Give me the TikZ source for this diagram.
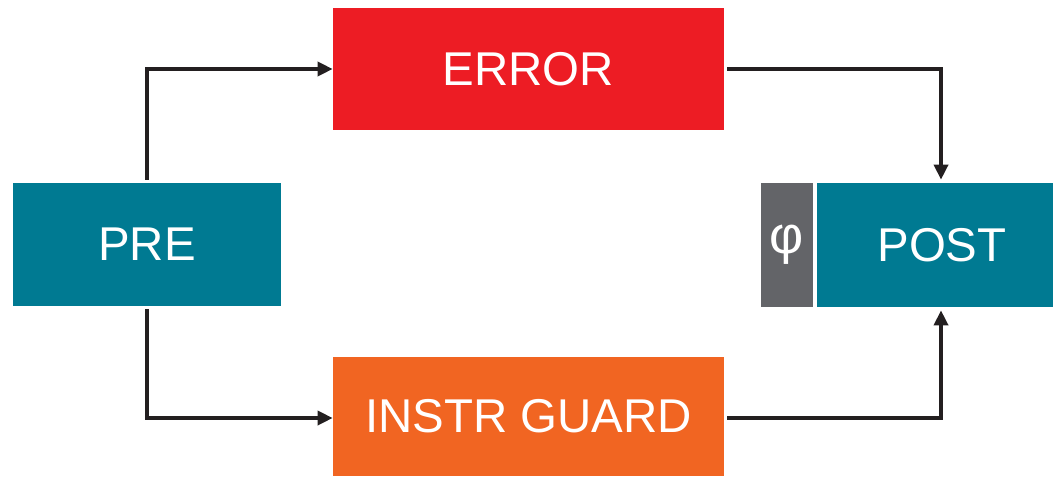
\documentclass[tikz,border=0pt]{standalone}
\usepackage{fontspec}
\setmainfont{Liberation Sans}
\definecolor{PathTeal}{RGB}{0, 122, 146}
\definecolor{PathRed}{RGB}{237, 28, 36}
\definecolor{PathOrange}{RGB}{241, 101, 34}
\definecolor{PhiGrey}{RGB}{99, 100, 104}
\definecolor{ArrowInk}{RGB}{35, 31, 32}
\usetikzlibrary{arrows.meta, positioning, calc}

\tikzset{
	block/.style={rectangle, draw=none, text=white, inner sep=0pt,
		font=\fontsize{27}{32}\selectfont},
	flow/.style={draw=ArrowInk, line width=2pt,
		-{Triangle[length=0.3cm, width=0.28cm]}}
}

\begin{document}
\begin{tikzpicture}[x=0.02cm, y=-0.02cm]
	\useasboundingbox (0,0) rectangle (1053,477);
	% the four states
	\node[block, fill=PathTeal, minimum width=268*0.02cm, minimum height=123*0.02cm] (pre) at (147,244.5) {PRE};
	\node[block, fill=PathRed, minimum width=391*0.02cm, minimum height=122*0.02cm] (error) at (528.5,69) {ERROR};
	\node[block, fill=PathOrange, minimum width=391*0.02cm, minimum height=119*0.02cm] (guard) at (528.5,416.5) {INSTR GUARD};
	\node[block, fill=PathTeal, minimum width=236*0.02cm, minimum height=124*0.02cm] (post) at (935,245) {\hspace{0.28cm}POST};
	\node[block, fill=PhiGrey, minimum width=52*0.02cm, minimum height=124*0.02cm] (phi) at (787,245) {\fontsize{30}{32}\selectfont φ};
	% connectors
	\coordinate (postin) at ([xshift=0.12cm]post.north);
	\coordinate (postout) at ([xshift=0.12cm]post.south);
	\draw[flow] ([yshift=0.06cm]pre.north) |- (error.west);
	\draw[flow] ([yshift=-0.06cm]pre.south) |- ([yshift=-0.03cm]guard.west);
	\draw[flow] ([xshift=0.06cm]error.east) -| ([yshift=0.06cm]postin);
	\draw[flow] ([xshift=0.06cm,yshift=-0.03cm]guard.east) -| ([yshift=-0.06cm]postout);
\end{tikzpicture}
\end{document}
